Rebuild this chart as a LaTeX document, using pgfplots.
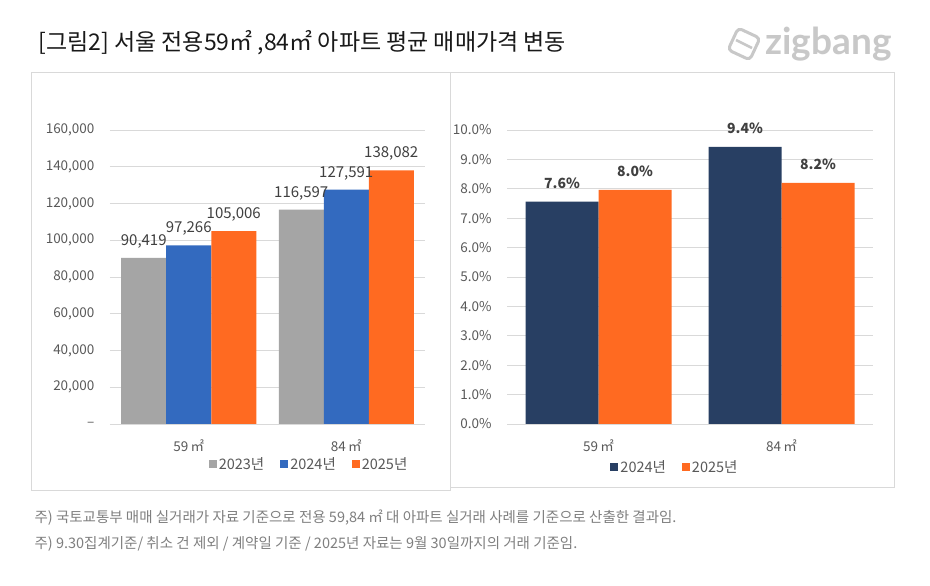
\documentclass[border=0pt]{standalone}
\usepackage{fontspec}
\usepackage{pgfplots}
\pgfplotsset{compat=1.18}
\setmainfont{Noto Sans CJK KR}
\newfontfamily\logofont{Lato}
\definecolor{c23}{HTML}{A5A5A5}
\definecolor{c24}{HTML}{336ABF}
\definecolor{c25}{HTML}{FF6A21}
\definecolor{cnavy}{HTML}{283F63}
\definecolor{gridc}{HTML}{D9D9D9}
\definecolor{txt}{HTML}{595959}
\definecolor{lbl}{HTML}{404040}
\definecolor{foot}{HTML}{7F7F7F}
\definecolor{logo}{HTML}{C8C8C8}

\pgfplotsset{
  sqlegend/.style={legend image code/.code={\fill[##1] (0pt,-4pt) rectangle (8pt,4pt);}},
  panel/.style={
    scale only axis, anchor=south west,
    ymin=0, xmin=-0.5, xmax=1.5,
    xtick={0,1}, xticklabels={59\,㎡,84\,㎡},
    ymajorgrids, grid style={gridc, line width=0.8pt},
    axis line style={draw=none}, tick style={draw=none},
    ticklabel style={font=\fontsize{13.5}{15}\selectfont, text=txt},
    xticklabel style={yshift=-8pt},
    yticklabel style={xshift=-12pt},
    scaled y ticks=false,
    ybar=0pt,
    /pgf/number format/assume math mode=true,
    enlargelimits=false, clip=false,
    legend style={draw=none, fill=none, legend columns=-1, anchor=center,
      font=\fontsize{14.5}{16}\selectfont, text=txt,
      /tikz/every even column/.append style={column sep=14pt}},
    every axis plot post/.append style={sqlegend},
  },
}

\begin{document}
\begin{tikzpicture}
\path[use as bounding box, fill=white] (0pt,0pt) rectangle (930pt,586pt);

% title and logo
\node[anchor=west, font=\fontsize{23}{26}\selectfont, text=black!90] at (35pt,543pt)
  {[그림2] 서울 전용59㎡ ,84㎡ 아파트 평균 매매가격 변동};
\draw[logo, line width=3pt, rounded corners=4pt, rotate around={-25:(744pt,542pt)}]
  (732pt,530pt) rectangle (756pt,554pt);
\draw[logo, line width=2.5pt] (736pt,546pt) -- (752pt,538pt);
\node[anchor=base west, font=\logofont\bfseries\fontsize{37}{40}\selectfont, text=logo] at (762pt,531pt) {zigbang};

% panel frames
\draw[gridc, line width=1pt] (31pt,95pt) rectangle (450pt,513pt);
\draw[gridc, line width=1pt] (450pt,98pt) rectangle (894pt,513pt);

% left: average price
\begin{axis}[panel, at={(110pt,162pt)}, width=315pt, height=294pt,
  ymax=160000, ytick={0,20000,...,160000},
  yticklabels={–,{20,000},{40,000},{60,000},{80,000},{100,000},{120,000},{140,000},{160,000}},
  bar width=45pt,
  nodes near coords={\pgfmathprintnumber[fixed,precision=0,1000 sep={,}]{\pgfplotspointmeta}},
  nodes near coords style={font=\fontsize{15}{17}\selectfont, text=lbl, yshift=6pt},
  legend style={at={(0.632,-0.136)}},
]
\addplot[fill=c23, draw=none] coordinates {(0,90419) (1,116597)};
\addplot[fill=c24, draw=none] coordinates {(0,97266) (1,127591)};
\addplot[fill=c25, draw=none] coordinates {(0,105006) (1,138082)};
\legend{2023년,2024년,2025년}
\end{axis}

% right: change rate
\begin{axis}[panel, at={(507pt,162pt)}, width=366pt, height=294pt,
  ymax=10, ytick={0,1,...,10},
  yticklabel={\pgfmathprintnumber[fixed,fixed zerofill,precision=1]{\tick}\%},
  bar width=73pt,
  nodes near coords={\pgfmathprintnumber[fixed,fixed zerofill,precision=1]{\pgfplotspointmeta}\%},
  nodes near coords style={font=\bfseries\fontsize{14}{16}\selectfont, text=lbl, yshift=10pt},
  legend style={at={(0.459,-0.146)}},
]
\addplot[fill=cnavy, draw=none] coordinates {(0,7.56) (1,9.43)};
\addplot[fill=c25, draw=none] coordinates {(0,7.96) (1,8.2)};
\legend{2024년,2025년}
\end{axis}

% footnotes
\node[anchor=west, font=\fontsize{14.5}{16}\selectfont, text=foot] at (31pt,68pt)
  {주) 국토교통부 매매 실거래가 자료 기준으로 전용 59,84 ㎡ 대 아파트 실거래 사례를 기준으로 산출한 결과임.};
\node[anchor=west, font=\fontsize{14.5}{16}\selectfont, text=foot] at (31pt,42pt)
  {주) 9.30집계기준/ 취소 건 제외 / 계약일 기준 / 2025년 자료는 9월 30일까지의 거래 기준임.};
\end{tikzpicture}
\end{document}
